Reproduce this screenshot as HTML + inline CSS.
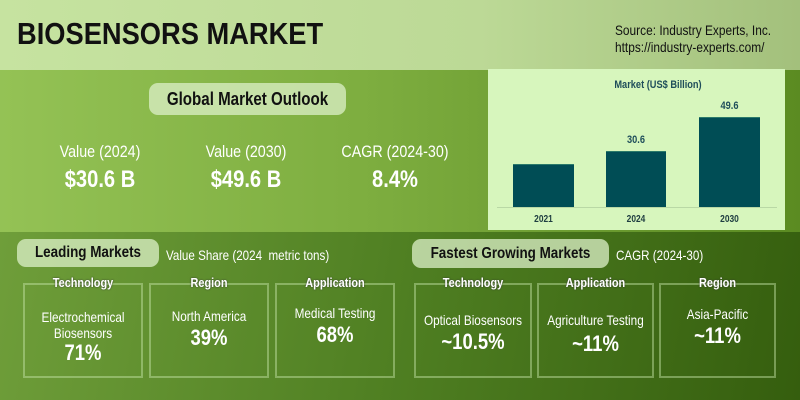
<!DOCTYPE html>
<html><head><style>
*{margin:0;padding:0;box-sizing:border-box}
body{width:800px;height:400px;overflow:hidden;position:relative;font-family:"Liberation Sans",sans-serif;}
.a{position:absolute;white-space:nowrap}
.c{text-align:center}
.n{transform:scaleX(.84);transform-origin:center}
.hdr{left:0;top:0;width:800px;height:70px;background:linear-gradient(90deg,#c6e3a0 0%,#bcd996 60%,#a3c07c 100%)}
.mid{left:0;top:70px;width:800px;height:162px;background:linear-gradient(90deg,#94c255 0%,#7eae40 45%,#5b8b22 100%)}
.bot{left:0;top:232px;width:800px;height:168px;background:linear-gradient(100deg,#6f9e3a 0%,#4f7f22 50%,#355e0e 100%)}
.pill{background:rgba(220,240,200,.75);border-radius:9px;}
.pt{font-weight:bold;color:#111}
.w{color:#fff}
.box{border:2px solid rgba(200,230,170,.45);top:283px;height:95px}
.bh{top:275px;font-weight:bold;color:#fff;font-size:13px;text-shadow:0 0 2px #333}
.bar{background:#004d55;border-top:1px solid #2a7a6a}
</style></head><body>
<div class="a hdr"></div>
<div class="a mid"></div>
<div class="a bot"></div>
<div class="a" style="left:17px;top:16px;font-size:31px;font-weight:bold;color:#111;transform:scaleX(.88);transform-origin:left;">BIOSENSORS MARKET</div>
<div class="a" style="left:615px;top:22px;font-size:14px;line-height:17px;color:#111;transform:scaleX(.85);transform-origin:left;">Source: Industry Experts, Inc.<br>https://industry-experts.com/</div>
<div class="a pill" style="left:149px;top:83px;width:197px;height:32px;"></div>
<div class="a pt c n" style="left:149px;top:83px;width:197px;font-size:18px;line-height:32px;">Global Market Outlook</div>
<div class="a w c n" style="left:40px;top:142px;width:120px;font-size:17px;">Value (2024)</div>
<div class="a w c n" style="left:186px;top:142px;width:120px;font-size:17px;">Value (2030)</div>
<div class="a w c n" style="left:320px;top:142px;width:150px;font-size:17px;">CAGR (2024-30)</div>
<div class="a w c n" style="left:50px;top:166px;width:100px;font-size:24px;font-weight:bold;">$30.6 B</div>
<div class="a w c n" style="left:196px;top:166px;width:100px;font-size:24px;font-weight:bold;">$49.6 B</div>
<div class="a w c n" style="left:345px;top:166px;width:100px;font-size:24px;font-weight:bold;">8.4%</div>
<div class="a" style="left:488px;top:69px;width:297px;height:161px;background:#d7f6bd;"></div>
<div class="a c n" style="left:588px;top:79px;width:140px;font-size:11px;font-weight:bold;color:#1e4d5a;">Market (US$ Billion)</div>
<div class="a" style="left:497px;top:207px;width:280px;height:1px;background:#b9d8a5"></div>
<div class="a bar" style="left:513px;top:164px;width:61px;height:43px"></div>
<div class="a bar" style="left:606px;top:151px;width:60px;height:56px"></div>
<div class="a bar" style="left:699px;top:117px;width:61px;height:90px"></div>
<div class="a c n" style="left:606px;top:134px;width:60px;font-size:11px;font-weight:bold;color:#1e4d5a">30.6</div>
<div class="a c n" style="left:699px;top:100px;width:61px;font-size:11px;font-weight:bold;color:#1e4d5a">49.6</div>
<div class="a c n" style="left:513px;top:214px;width:61px;font-size:10px;font-weight:bold;color:#1e3d40">2021</div>
<div class="a c n" style="left:606px;top:214px;width:60px;font-size:10px;font-weight:bold;color:#1e3d40">2024</div>
<div class="a c n" style="left:699px;top:214px;width:61px;font-size:10px;font-weight:bold;color:#1e3d40">2030</div>

<div class="a pill" style="left:17px;top:239px;width:142px;height:28px;"></div>
<div class="a pt c n" style="left:17px;top:239px;width:142px;font-size:16px;line-height:28px;">Leading Markets</div>
<div class="a w" style="left:166px;top:247px;font-size:14px;transform:scaleX(.83);transform-origin:left;">Value Share (2024&nbsp; metric tons)</div>
<div class="a pill" style="left:412px;top:239px;width:197px;height:29px;"></div>
<div class="a pt c n" style="left:412px;top:239px;width:197px;font-size:16px;line-height:29px;">Fastest Growing Markets</div>
<div class="a w" style="left:616px;top:247px;font-size:14px;transform:scaleX(.83);transform-origin:left;">CAGR (2024-30)</div>

<div class="a box" style="left:23px;width:120px"></div>
<div class="a box" style="left:149px;width:120px"></div>
<div class="a box" style="left:275px;width:120px"></div>
<div class="a box" style="left:414px;width:118px"></div>
<div class="a box" style="left:537px;width:117px"></div>
<div class="a box" style="left:659px;width:117px"></div>
<div class="a bh c n" style="left:23px;width:120px">Technology</div>
<div class="a bh c n" style="left:149px;width:120px">Region</div>
<div class="a bh c n" style="left:275px;width:120px">Application</div>
<div class="a bh c n" style="left:414px;width:118px">Technology</div>
<div class="a bh c n" style="left:537px;width:117px">Application</div>
<div class="a bh c n" style="left:659px;width:117px">Region</div>

<div class="a w c n" style="left:23px;top:309px;width:120px;font-size:14px;line-height:16px;">Electrochemical<br>Biosensors</div>
<div class="a w c n" style="left:23px;top:340px;width:120px;font-size:22px;font-weight:bold;">71%</div>
<div class="a w c n" style="left:149px;top:308px;width:120px;font-size:14px;">North America</div>
<div class="a w c n" style="left:149px;top:325px;width:120px;font-size:22px;font-weight:bold;">39%</div>
<div class="a w c n" style="left:275px;top:305px;width:120px;font-size:14px;">Medical Testing</div>
<div class="a w c n" style="left:275px;top:322px;width:120px;font-size:22px;font-weight:bold;">68%</div>
<div class="a w c n" style="left:414px;top:312px;width:118px;font-size:14px;">Optical Biosensors</div>
<div class="a w c n" style="left:414px;top:329px;width:118px;font-size:22px;font-weight:bold;">~10.5%</div>
<div class="a w c n" style="left:537px;top:312px;width:117px;font-size:14px;">Agriculture Testing</div>
<div class="a w c n" style="left:537px;top:331px;width:117px;font-size:22px;font-weight:bold;">~11%</div>
<div class="a w c n" style="left:659px;top:306px;width:117px;font-size:14px;">Asia-Pacific</div>
<div class="a w c n" style="left:659px;top:323px;width:117px;font-size:22px;font-weight:bold;">~11%</div>
</body></html>
